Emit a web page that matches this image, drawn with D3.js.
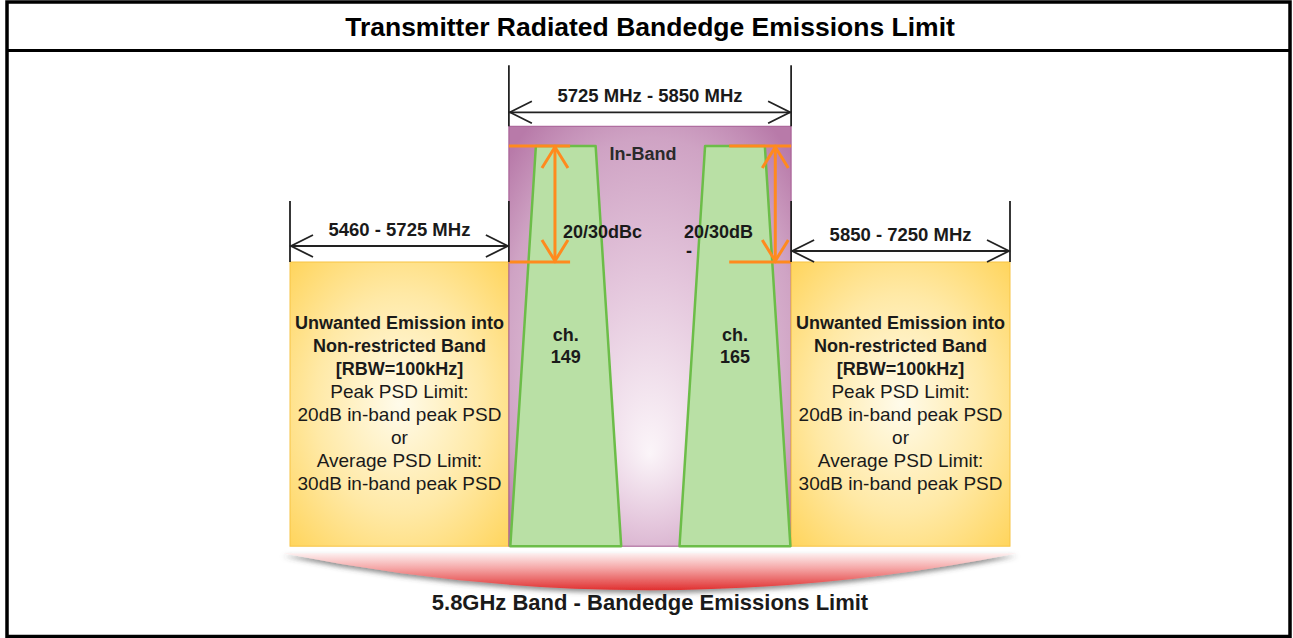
<!DOCTYPE html>
<html>
<head>
<meta charset="utf-8">
<script src="https://cdn.jsdelivr.net/npm/d3@7"></script>
<style>
  body { margin: 0; background: #fff; }
  svg { display: block; }
  text { font-family: Arial, "Liberation Sans", sans-serif; fill: #1a1a1a; }
</style>
</head>
<body>
<div id="chart"></div>
<script>
const WIDTH = 1293;
const HEIGHT = 638;

const TITLE = "Transmitter Radiated Bandedge Emissions Limit";
const FOOTER = "5.8GHz Band - Bandedge Emissions Limit";

// bands, left to right (diagram position in %, not to frequency scale)
const bandNames = ["5460 - 5725 MHz", "5725 MHz - 5850 MHz", "5850 - 7250 MHz"];
const bandKinds = ["unwanted", "inband", "unwanted"];
const bandEdges = [0, 30.4, 69.6, 100];

// channels drawn as trapezoids
const channelNames = ["149", "165"];
const channelCenters = [38.3, 61.8];
const channelTopWidth = 8.3;
const channelBottomWidth = 15.4;

// levels in dB relative to in-band peak
const peakLevel = 0;
const limitLevel = -20;
const floorLevel = -69;
const inBandTop = 3.4;

// orange 20/30 dB markers (diagram %)
const markerFrom = [30.4, 61.0];
const markerTo = [38.9, 69.6];
const markerArrow = [36.8, 67.4];
const markerLabels = ["20/30dBc", "20/30dB"];

const boxLinesBold = ["Unwanted Emission into", "Non-restricted Band", "[RBW=100kHz]"];
const boxLinesPlain = ["Peak PSD Limit:", "20dB in-band peak PSD", "or", "Average PSD Limit:", "30dB in-band peak PSD"];

const x = d3.scaleLinear().domain([0, 100]).range([290, 1010]);
const y = d3.scaleLinear().domain([peakLevel, limitLevel]).range([146, 262]);

const svg = d3.select("#chart")
  .append("svg")
  .attr("width", WIDTH)
  .attr("height", HEIGHT);

const defs = svg.append("defs");

// purple in-band glow, brightest low in the middle
let g1 = defs.append("radialGradient").attr("id", "inband")
  .attr("cx", 0.5).attr("cy", 0.5).attr("r", 0.66)
  .attr("fx", 0.5).attr("fy", 0.78);
g1.append("stop").attr("offset", 0).attr("stop-color", "#fbf5f9");
g1.append("stop").attr("offset", 0.45).attr("stop-color", "#e4c6dc");
g1.append("stop").attr("offset", 0.8).attr("stop-color", "#cfa3c4");
g1.append("stop").attr("offset", 1).attr("stop-color", "#b87aa9");

// yellow boxes
let g2 = defs.append("radialGradient").attr("id", "unwanted")
  .attr("cx", 0.5).attr("cy", 0.5).attr("r", 0.7);
g2.append("stop").attr("offset", 0).attr("stop-color", "#fffbea");
g2.append("stop").attr("offset", 0.55).attr("stop-color", "#ffe9a6");
g2.append("stop").attr("offset", 1).attr("stop-color", "#ffd55e");

// red lens under the bands
let g3 = defs.append("linearGradient").attr("id", "lens")
  .attr("x1", 0).attr("y1", 0).attr("x2", 0).attr("y2", 1);
g3.append("stop").attr("offset", 0).attr("stop-color", "#fdf0f0");
g3.append("stop").attr("offset", 0.4).attr("stop-color", "#f5a8a8");
g3.append("stop").attr("offset", 1).attr("stop-color", "#e03030");

defs.append("filter").attr("id", "shadow")
  .attr("x", -0.1).attr("y", -0.5).attr("width", 1.2).attr("height", 2)
  .append("feDropShadow")
  .attr("dx", 0).attr("dy", 3).attr("stdDeviation", 2.5)
  .attr("flood-color", "#444").attr("flood-opacity", 0.6);

// frame + title
svg.append("rect")
  .attr("x", 7).attr("y", 2)
  .attr("width", 1283).attr("height", 634.5)
  .attr("fill", "none").attr("stroke", "#000").attr("stroke-width", 3.5);
svg.append("line")
  .attr("x1", 7).attr("x2", 1290).attr("y1", 50.5).attr("y2", 50.5)
  .attr("stroke", "#000").attr("stroke-width", 3);
svg.append("text")
  .attr("x", 650).attr("y", 36)
  .attr("text-anchor", "middle")
  .style("font-size", "26.5px").style("font-weight", "bold")
  .style("fill", "#000")
  .text(TITLE);

// bands
const bands = bandNames.map((name, i) => ({
  name: name,
  kind: bandKinds[i],
  x0: x(bandEdges[i]),
  x1: x(bandEdges[i + 1]),
  top: bandKinds[i] === "inband" ? y(inBandTop) : y(limitLevel)
}));

svg.selectAll(".band")
  .data(bands)
  .enter()
  .append("rect")
  .attr("class", "band")
  .attr("x", d => d.x0)
  .attr("y", d => d.top)
  .attr("width", d => d.x1 - d.x0)
  .attr("height", d => y(floorLevel) - d.top)
  .attr("fill", d => "url(#" + d.kind + ")")
  .attr("stroke", d => d.kind === "inband" ? "#a45a92" : "#f7c445")
  .attr("stroke-width", 1);

// channel trapezoids
const channels = channelNames.map((name, i) => ({ name: name, c: channelCenters[i] }));

svg.selectAll(".channel")
  .data(channels)
  .enter()
  .append("path")
  .attr("class", "channel")
  .attr("d", d => {
    let p = d3.path();
    p.moveTo(x(d.c - channelTopWidth / 2), y(peakLevel));
    p.lineTo(x(d.c + channelTopWidth / 2), y(peakLevel));
    p.lineTo(x(d.c + channelBottomWidth / 2), y(floorLevel));
    p.lineTo(x(d.c - channelBottomWidth / 2), y(floorLevel));
    p.closePath();
    return p.toString();
  })
  .attr("fill", "#b9e0a5")
  .attr("stroke", "#6cbd48")
  .attr("stroke-width", 2.5)
  .attr("stroke-linejoin", "round");

channels.forEach(d => {
  let t = svg.append("text")
    .attr("x", x(d.c))
    .attr("y", 341)
    .attr("text-anchor", "middle")
    .style("font-size", "18px").style("font-weight", "bold");
  t.append("tspan").attr("x", x(d.c)).text("ch.");
  t.append("tspan").attr("x", x(d.c)).attr("dy", 22).text(d.name);
});

svg.append("text")
  .attr("x", 643).attr("y", 160)
  .attr("text-anchor", "middle")
  .style("font-size", "18px").style("font-weight", "bold")
  .style("fill", "#2a2a2a")
  .text("In-Band");

// orange level markers
const ORANGE = "#ff8a1e";
markerFrom.forEach((f, i) => {
  let g = svg.append("g")
    .attr("stroke", ORANGE).attr("stroke-width", 3)
    .attr("fill", "none").attr("stroke-linecap", "butt");
  [peakLevel, limitLevel].forEach(lv => {
    g.append("line")
      .attr("x1", x(f)).attr("x2", x(markerTo[i]))
      .attr("y1", y(lv)).attr("y2", y(lv));
  });
  let ax = x(markerArrow[i]);
  g.append("line")
    .attr("x1", ax).attr("x2", ax)
    .attr("y1", y(peakLevel) + 1).attr("y2", y(limitLevel) - 1);
  g.append("path")
    .attr("d", `M${ax - 13},${y(peakLevel) + 22}L${ax},${y(peakLevel) + 1}L${ax + 13},${y(peakLevel) + 22}`);
  g.append("path")
    .attr("d", `M${ax - 13},${y(limitLevel) - 22}L${ax},${y(limitLevel) - 1}L${ax + 13},${y(limitLevel) - 22}`);
});

svg.append("text")
  .attr("x", 563).attr("y", 238)
  .style("font-size", "18px").style("font-weight", "bold")
  .text(markerLabels[0]);
let rl = svg.append("text")
  .attr("x", 684).attr("y", 238)
  .style("font-size", "18px").style("font-weight", "bold");
rl.append("tspan").attr("x", 684).text(markerLabels[1]);
rl.append("tspan").attr("x", 686).attr("dy", 19).text("-");

// dimension arrows above each band
const dimOffsets = [16, 14, 11];
bands.forEach((b, i) => {
  let ay = b.top - dimOffsets[i];
  let g = svg.append("g")
    .attr("stroke", "#222").attr("stroke-width", 1.8).attr("fill", "none");
  [b.x0, b.x1].forEach(ex => {
    g.append("line")
      .attr("x1", ex).attr("x2", ex)
      .attr("y1", b.top - 61).attr("y2", b.top);
  });
  g.append("line")
    .attr("x1", b.x0).attr("x2", b.x1)
    .attr("y1", ay).attr("y2", ay);
  g.append("path").attr("d", `M${b.x0 + 23},${ay - 11}L${b.x0 + 1},${ay}L${b.x0 + 23},${ay + 11}`);
  g.append("path").attr("d", `M${b.x1 - 23},${ay - 11}L${b.x1 - 1},${ay}L${b.x1 - 23},${ay + 11}`);

  svg.append("text")
    .attr("x", (b.x0 + b.x1) / 2)
    .attr("y", ay - 10)
    .attr("text-anchor", "middle")
    .style("font-size", "18.5px").style("font-weight", "bold")
    .text(b.name);
});

// text in the unwanted-emission boxes
bands.filter(b => b.kind === "unwanted").forEach(b => {
  let cx = (b.x0 + b.x1) / 2;
  let t = svg.append("text")
    .attr("y", 329)
    .attr("text-anchor", "middle");
  boxLinesBold.concat(boxLinesPlain).forEach((line, j) => {
    let bold = j < boxLinesBold.length;
    t.append("tspan")
      .attr("x", cx)
      .attr("dy", j === 0 ? 0 : 23)
      .style("font-weight", bold ? "bold" : "normal")
      .style("font-size", bold ? "18px" : "19px")
      .text(line);
  });
});

// red lens + footer
let lx0 = x(0) - 7, lx1 = x(100) + 7, ly = y(floorLevel) + 7;
let lens = d3.path();
lens.moveTo(lx0, ly);
lens.lineTo(lx1, ly);
lens.quadraticCurveTo((lx0 + lx1) / 2, ly + 74, lx0, ly);
svg.append("path")
  .attr("d", lens.toString())
  .attr("fill", "url(#lens)")
  .attr("filter", "url(#shadow)");

svg.append("text")
  .attr("x", 650).attr("y", 610)
  .attr("text-anchor", "middle")
  .style("font-size", "22px").style("font-weight", "bold")
  .text(FOOTER);
</script>
</body>
</html>
